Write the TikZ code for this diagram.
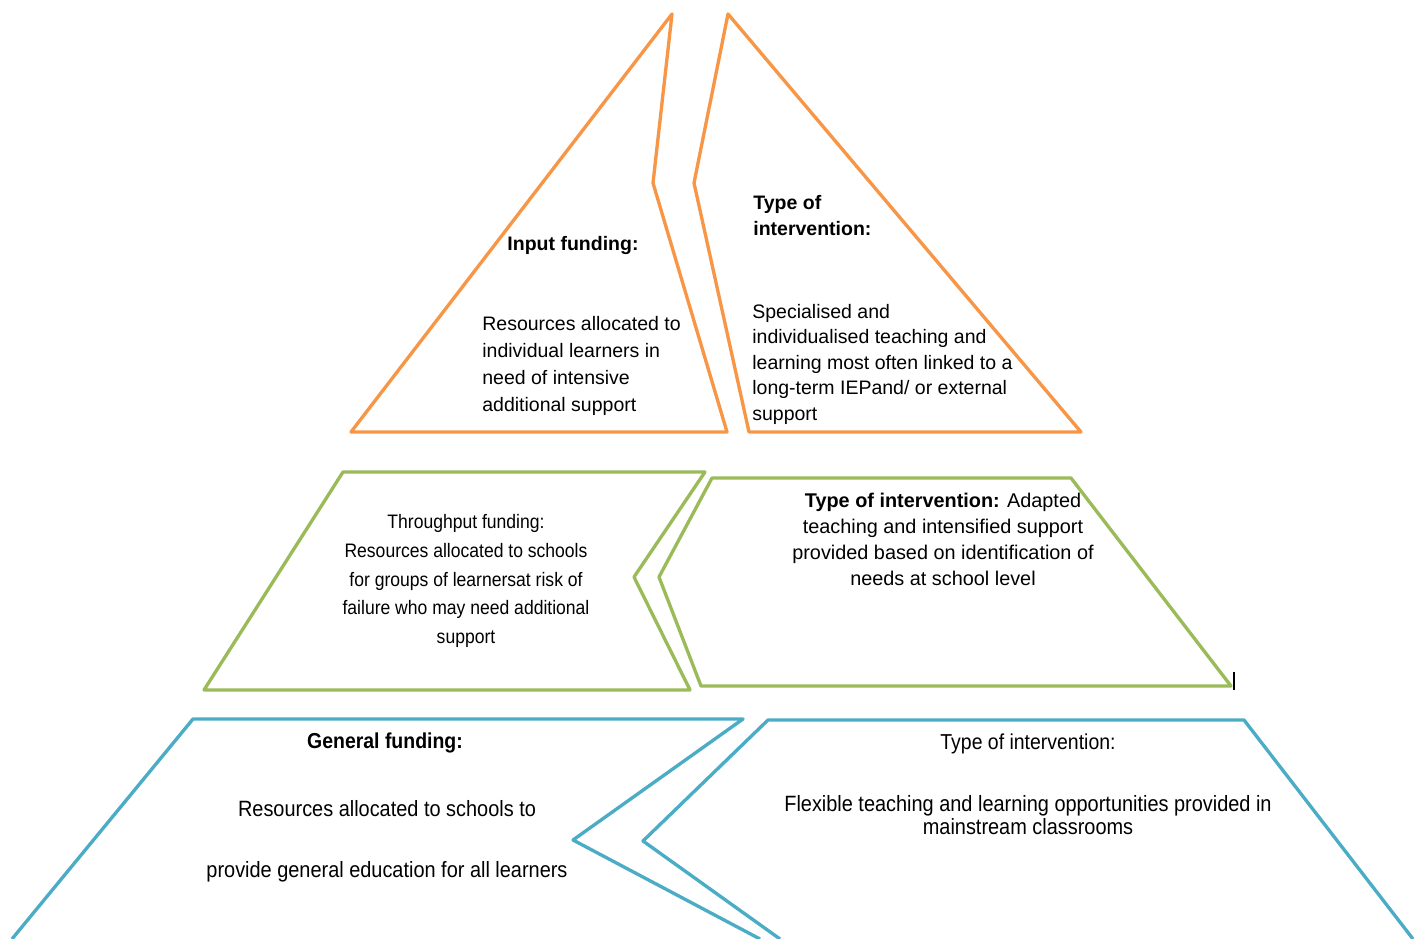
\documentclass[tikz,border=0pt]{standalone}
\usepackage{fontspec}
\setmainfont{Liberation Sans}
\newfontfamily\narrowsf[FakeStretch=0.9]{Liberation Sans}
\definecolor{FundOrange}{HTML}{F79646}
\definecolor{FundGreen}{HTML}{9BBB59}
\definecolor{FundBlue}{HTML}{4BACC6}

\begin{document}
\begin{tikzpicture}[x=0.02cm,y=-0.02cm,line join=round,
  edge/.style={line width=1.9pt},
  body/.style={inner sep=0pt,text=black,font=\fontsize{11.1}{15.3}\selectfont},
  head/.style={body,font=\fontsize{11.1}{14.7}\selectfont\bfseries}]
  \useasboundingbox (0,0) rectangle (1424,939);
  \clip (0,0) rectangle (1424,939);
  % top tier: input funding
  \draw[edge,FundOrange] (351,432) -- (672,14) -- (653,183) -- (727,432) -- cycle;
  \draw[edge,FundOrange] (749,432) -- (694,183) -- (728,14) -- (1081,432) -- cycle;
  \node[head] (inhead) at (573,246) {Input funding:};
  \node[body,anchor=north west,align=left] (intext) at (482,316)
    {Resources allocated to\\individual learners in\\need of intensive\\additional support};
  \node[head,anchor=north west,align=left] (tophead) at (753,195) {Type of\\intervention:};
  \node[body,anchor=north west,align=left,font=\fontsize{11.1}{14.5}\selectfont] (toptext) at (752,304)
    {Specialised and\\individualised teaching and\\learning most often linked to a\\long-term IEPand/ or external\\support};
  % middle tier: throughput funding
  \draw[edge,FundGreen] (204,690) -- (343,472) -- (705,472) -- (634,577) -- (690,690) -- cycle;
  \draw[edge,FundGreen] (701,686) -- (659,577) -- (712,478) -- (1071,478) -- (1231,686) -- cycle;
  \draw[black,line width=0.6pt] (1234,672) -- (1234,690);
  \node[body,anchor=north,align=center,font=\narrowsf\fontsize{11.1}{16.4}\selectfont] (midtext) at (466,514)
    {Throughput funding:\\Resources allocated to schools\\for groups of learnersat risk of\\failure who may need additional\\support};
  \node[body,anchor=north,align=center,font=\fontsize{11.3}{14.7}\selectfont] (midtype) at (943,493)
    {\textbf{Type of intervention:} Adapted\\teaching and intensified support\\provided based on identification of\\needs at school level};
  % bottom tier: general funding
  \draw[edge,FundBlue] (12,939) -- (193,719) -- (743,719) -- (573,840) -- (760,939);
  \draw[edge,FundBlue] (780,939) -- (643,841) -- (768,720) -- (1244,720) -- (1413,939);
  \node[head,font=\narrowsf\fontsize{12.3}{14}\selectfont\bfseries] (genhead) at (385,743) {General funding:};
  \node[body,anchor=north,align=center,font=\narrowsf\fontsize{12.6}{35}\selectfont] (gentext) at (387,800)
    {Resources allocated to schools to\\provide general education for all learners};
  \node[body,font=\narrowsf\fontsize{12.3}{14}\selectfont] (bothead) at (1028,744) {Type of intervention:};
  \node[body,anchor=north,align=center,font=\narrowsf\fontsize{12.6}{13}\selectfont] (bottext) at (1028,795)
    {Flexible teaching and learning opportunities provided in\\mainstream classrooms};
\end{tikzpicture}
\end{document}
